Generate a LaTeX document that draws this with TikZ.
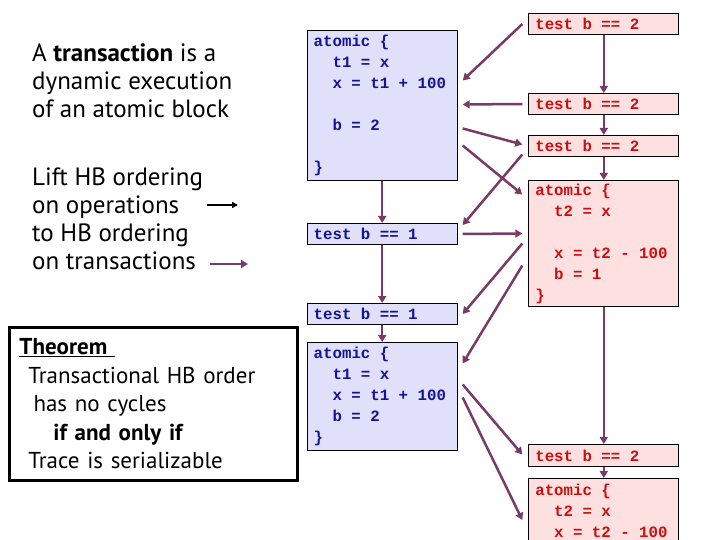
\documentclass[tikz,border=0pt]{standalone}
\usepackage{fontspec}
\setmainfont{PT Sans}
\setmonofont{Liberation Mono}
\usetikzlibrary{arrows.meta}
\definecolor{onefill}{RGB}{224,224,250}
\definecolor{onetext}{RGB}{20,20,150}
\definecolor{twofill}{RGB}{255,224,224}
\definecolor{twotext}{RGB}{200,16,16}
\definecolor{hbcol}{RGB}{122,58,104}
\tikzset{
  code/.style={draw=black, line width=1pt, anchor=north west, text width=137pt,
    align=left, inner xsep=6.5pt, inner ysep=1pt,
    font=\ttfamily\bfseries\fontsize{15.75}{21}\selectfont,
    execute at begin node={\spaceskip=0.6em\relax}},
  tone/.style={code, fill=onefill, text=onetext},
  ttwo/.style={code, fill=twofill, text=twotext},
  txt/.style={anchor=north west, align=left, inner sep=0pt,
    font=\fontsize{25}{28}\selectfont},
  hb/.style={draw=hbcol, line width=2.5pt, -{Triangle[length=7pt,width=8pt]}},
  op/.style={draw=black, line width=1.8pt, -{Triangle[length=6pt,width=6pt]}},
}
\begin{document}
\begin{tikzpicture}[x=1pt,y=-1pt]
            \useasboundingbox (0,0) rectangle (720,540);

            \node[txt] (def) at (32,43.5) {A \textbf{transaction} is a\\dynamic execution\\of an atomic block};
            \node[txt] (lift) at (32,168) {Lift HB ordering\\on operations\\to HB ordering\\on transactions};
            \coordinate (opa) at (207,205);
            \coordinate (opb) at (238,205);
            \coordinate (hba) at (210,264);
            \coordinate (hbb) at (248,264);
            \draw[op] (opa) -- (opb);
            \draw[hb] (hba) -- (hbb);

            \node[draw, line width=3pt, anchor=north west, minimum width=288pt, minimum height=153pt,
              text width=268pt, inner xsep=10pt, align=left, font=\fontsize{23}{28.5}\selectfont]
              (thm) at (8,326) {\underline{\textbf{Theorem}\ }\\
              \hspace*{9pt}Transactional HB order\\
              \hspace*{14pt}has no cycles\\
              \hspace*{34pt}\textbf{if and only if}\\
              \hspace*{9pt}Trace is serializable};

            \node[tone, minimum height=150pt] (b1) at (306.7,30) {atomic \{\\~~t1 = x\\~~x = t1 + 100\\\mbox{}\\~~b = 2\\\mbox{}\\\}};
            \node[tone, minimum height=21pt] (b2) at (306.7,223) {test b == 1};
            \node[tone, minimum height=21pt] (b3) at (306.7,303) {test b == 1};
            \node[tone, minimum height=108pt] (b4) at (306.7,342) {atomic \{\\~~t1 = x\\~~x = t1 + 100\\~~b = 2\\\}};

            \node[ttwo, minimum height=21pt] (r1) at (528.3,13) {test b == 2};
            \node[ttwo, minimum height=21pt] (r2) at (528.3,93) {test b == 2};
            \node[ttwo, minimum height=21pt] (r3) at (528.3,135) {test b == 2};
            \node[ttwo, minimum height=126pt] (r4) at (528.3,180) {atomic \{\\~~t2 = x\\\mbox{}\\~~x = t2 - 100\\~~b = 1\\\}};
            \node[ttwo, minimum height=22pt] (r5) at (528.3,444) {test b == 2};
            \node[ttwo, minimum height=64pt] (r6) at (528.3,478) {atomic \{\\~~t2 = x\\~~x = t2 - 100};

            \draw[hb] (b1) -- (b2);
            \draw[hb] (b2) -- (b3);
            \draw[hb] (b3) -- (b4);
            \draw[hb] (r1) -- (r2);
            \draw[hb] (r2) -- (r3);
            \draw[hb] (r3) -- (r4);
            \draw[hb] (r4) -- (r5);
            \draw[hb] (r5) -- (r6);

            \draw[hb] ([xshift=-6pt]r1.west) -- ([xshift=5pt,yshift=25pt]b1.east);
            \draw[hb] ([xshift=-6pt]r2.west) -- ([xshift=5pt,yshift=1pt]b1.east);
            \draw[hb] ([xshift=5pt,yshift=-23pt]b1.east) -- ([xshift=-6pt,yshift=1.5pt]r3.west);
            \draw[hb] ([xshift=5pt,yshift=-40pt]b1.east) -- ([xshift=-6pt,yshift=49pt]r4.west);
            \draw[hb] ([xshift=-6pt,yshift=-8.5pt]r3.west) -- ([xshift=5pt,yshift=9pt]b2.east);
            \draw[hb] ([xshift=5pt]b2.east) -- ([xshift=-6pt,yshift=10pt]r4.west);
            \draw[hb] ([xshift=-6pt]r4.west) -- ([xshift=5pt]b3.east);
            \draw[hb] ([xshift=-6pt,yshift=-22pt]r4.west) -- ([xshift=5pt,yshift=33pt]b4.east);
            \draw[hb] ([xshift=5pt,yshift=12pt]b4.east) -- ([xshift=-6pt,yshift=1pt]r5.west);
            \draw[hb] ([xshift=5pt,yshift=-1pt]b4.east) -- ([xshift=-6pt,yshift=-42pt]r6.north west);
\end{tikzpicture}
\end{document}
